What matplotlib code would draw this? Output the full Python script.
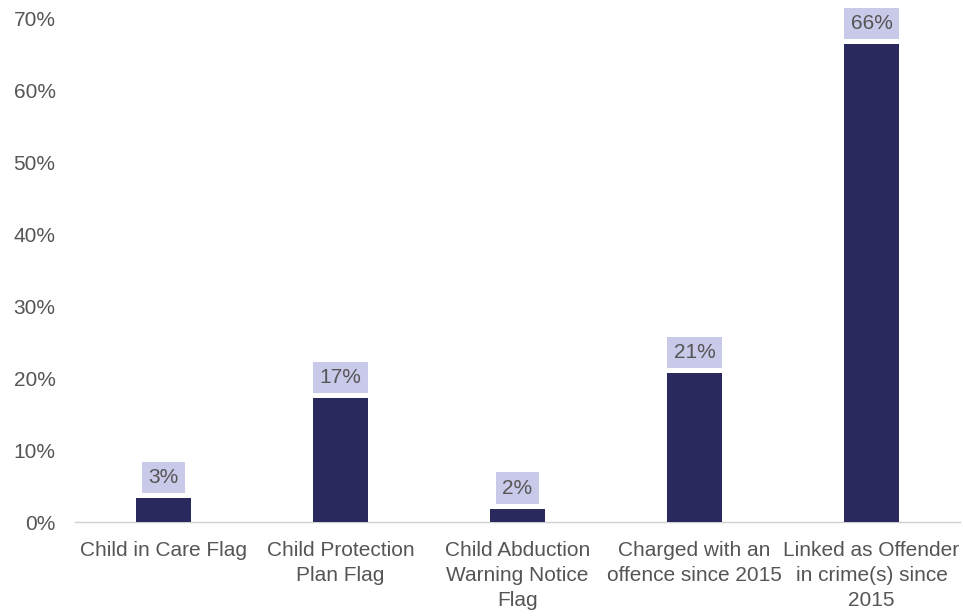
import matplotlib
matplotlib.use("Agg")
import matplotlib.pyplot as plt
from matplotlib.ticker import FuncFormatter

categories = ["Child in Care Flag", "Child Protection\nPlan Flag",
              "Child Abduction\nWarning Notice\nFlag",
              "Charged with an\noffence since 2015",
              "Linked as Offender\nin crime(s) since\n2015"]
values = [3.3, 17.2, 1.8, 20.7, 66.5]
labels = ["3%", "17%", "2%", "21%", "66%"]
yticks = [0, 10, 20, 30, 40, 50, 60, 70]

plt.rcParams['font.family'] = ['Liberation Sans', 'DejaVu Sans']

fig = plt.figure(figsize=(9.63, 6.16), dpi=100)
ax = fig.add_axes([75/963, 1 - 522/616, (960-75)/963, (522-19)/616])

x = list(range(len(categories)))
ax.bar(x, values, width=0.31, color="#29295e", zorder=3)
for xi, v, lab in zip(x, values, labels):
    ax.annotate(lab, (xi, v), xytext=(0, 15), textcoords="offset points",
                ha="center", va="center", fontsize=15, color="#555555",
                bbox=dict(boxstyle="square,pad=0.3", fc="#c9c9ea", ec="none"))

ax.set_xlim(-0.5, 4.5)
ax.set_ylim(0, 70)
ax.set_yticks(yticks)
ax.yaxis.set_major_formatter(FuncFormatter(lambda v, p: f"{int(v)}%"))
ax.set_xticks(x)
ax.set_xticklabels(categories, fontsize=15, color="#555555", linespacing=1.38)
ax.tick_params(axis="y", length=0, labelsize=15, labelcolor="#555555", pad=14)
ax.tick_params(axis="x", length=0, pad=14)
for s in ["top", "right", "left"]:
    ax.spines[s].set_visible(False)
ax.spines["bottom"].set_color("#d0d0d0")
ax.spines["bottom"].set_linewidth(1)

fig.savefig("out.png", dpi=100)
